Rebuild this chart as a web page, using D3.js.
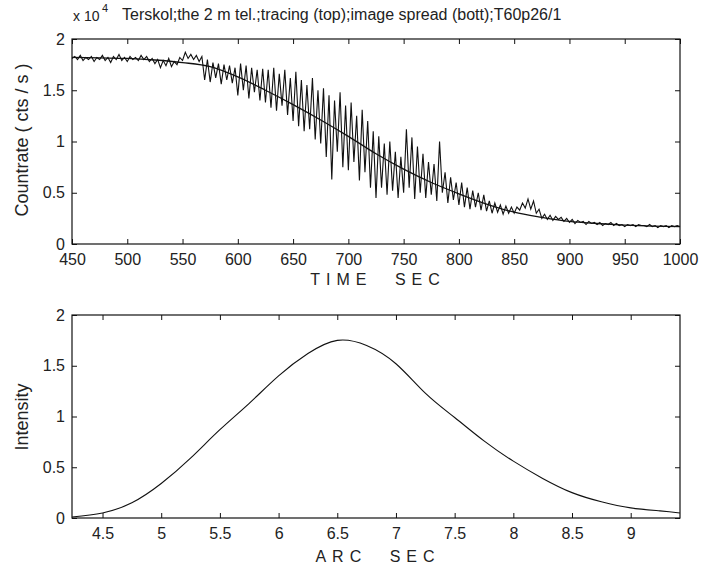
<!DOCTYPE html>
<html>
<head>
<meta charset="utf-8">
<script src="https://cdn.jsdelivr.net/npm/d3@7"></script>
<style>
  body { margin: 0; background: #fff; }
  svg { display: block; }
  text { font-family: "Liberation Sans", Arial, sans-serif; fill: #222; }
</style>
</head>
<body>
<svg id="chart"></svg>
<script>
// tracing: countrate in units of 1e4 cts/s, sampled every 2.5 s from 450 to 1000 s
const traceCounts = [
  1.81, 1.83, 1.80, 1.84, 1.79, 1.82, 1.80, 1.83, 1.78, 1.82,
  1.80, 1.84, 1.79, 1.82, 1.77, 1.83, 1.80, 1.85, 1.79, 1.82,
  1.78, 1.83, 1.80, 1.82, 1.79, 1.84, 1.80, 1.83, 1.78, 1.81,
  1.76, 1.80, 1.72, 1.79, 1.74, 1.81, 1.73, 1.78, 1.75, 1.82,
  1.79, 1.87, 1.81, 1.85, 1.80, 1.84, 1.78, 1.83, 1.60, 1.80,
  1.58, 1.77, 1.62, 1.76, 1.56, 1.75, 1.60, 1.74, 1.57, 1.72,
  1.45, 1.76, 1.50, 1.74, 1.42, 1.72, 1.48, 1.70, 1.40, 1.71,
  1.38, 1.70, 1.33, 1.72, 1.30, 1.66, 1.35, 1.70, 1.26, 1.62,
  1.20, 1.68, 1.15, 1.60, 1.10, 1.55, 1.12, 1.62, 1.02, 1.50,
  0.98, 1.52, 0.85, 1.45, 0.63, 1.40, 0.90, 1.48, 0.75, 1.35,
  0.72, 1.38, 0.80, 1.25, 0.62, 1.31, 0.70, 1.20, 0.55, 1.10,
  0.45, 1.05, 0.55, 0.98, 0.48, 1.00, 0.52, 0.90, 0.45, 0.85,
  0.50, 1.12, 0.55, 1.04, 0.44, 0.95, 0.50, 0.88, 0.45, 0.80,
  0.48, 0.78, 0.42, 1.00, 0.50, 0.70, 0.40, 0.65, 0.43, 0.60,
  0.38, 0.60, 0.36, 0.55, 0.34, 0.52, 0.36, 0.50, 0.33, 0.48,
  0.32, 0.42, 0.30, 0.40, 0.31, 0.38, 0.29, 0.37, 0.30, 0.36,
  0.30, 0.36, 0.33, 0.40, 0.35, 0.44, 0.34, 0.42, 0.30, 0.34,
  0.25, 0.29, 0.24, 0.28, 0.23, 0.27, 0.24, 0.26, 0.22, 0.25,
  0.21, 0.24, 0.20, 0.23, 0.21, 0.22, 0.19, 0.22, 0.20, 0.21,
  0.19, 0.21, 0.18, 0.20, 0.19, 0.21, 0.18, 0.20, 0.18, 0.19,
  0.17, 0.19, 0.18, 0.19, 0.17, 0.19, 0.18, 0.18, 0.17, 0.19,
  0.17, 0.18, 0.16, 0.18, 0.17, 0.18, 0.16, 0.18, 0.17, 0.18,
  0.17
]
const traceTimes = d3.range(traceCounts.length).map(i => 450 + i * 2.5)

// fitted smooth curve over the tracing
const fitTimes = [450, 475, 500, 525, 550, 575, 600, 625, 650, 675, 700, 725, 750, 775, 800, 825, 850, 875, 900, 925, 950, 975, 1000]
const fitCounts = [1.82, 1.815, 1.81, 1.795, 1.77, 1.73, 1.63, 1.50, 1.36, 1.21, 1.05, 0.88, 0.73, 0.60, 0.49, 0.39, 0.31, 0.26, 0.22, 0.20, 0.185, 0.175, 0.17]

// image spread profile
const arcSec = [4.24, 4.5, 4.75, 5.0, 5.25, 5.5, 5.75, 6.0, 6.25, 6.5, 6.75, 7.0, 7.25, 7.5, 7.75, 8.0, 8.25, 8.5, 8.75, 9.0, 9.25, 9.42]
const intensity = [0.01, 0.05, 0.15, 0.34, 0.59, 0.87, 1.13, 1.40, 1.62, 1.75, 1.70, 1.52, 1.23, 0.99, 0.76, 0.56, 0.39, 0.25, 0.16, 0.10, 0.07, 0.05]

const timeTicks = [450, 500, 550, 600, 650, 700, 750, 800, 850, 900, 950, 1000]
const countTicks = [0, 0.5, 1, 1.5, 2]
const arcTicks = [4.5, 5, 5.5, 6, 6.5, 7, 7.5, 8, 8.5, 9]
const intensityTicks = [0, 0.5, 1, 1.5, 2]

const width = 704
const height = 572
const svg = d3.select('#chart')
    .attr('width', width)
    .attr('height', height)

const left = 72
const right = 680
const plain = d => String(d)

// ---------- top panel ----------
const xTop = d3.scaleLinear().domain([450, 1000]).range([left, right])
const yTop = d3.scaleLinear().domain([0, 2]).range([244, 39])

drawFrame(xTop, yTop, timeTicks, countTicks)

svg.append('path')
    .datum(d3.zip(traceTimes, traceCounts))
    .attr('fill', 'none')
    .attr('stroke', '#111')
    .attr('stroke-width', 1.1)
    .attr('d', d3.line().x(d => xTop(d[0])).y(d => yTop(d[1])))

svg.append('path')
    .datum(d3.zip(fitTimes, fitCounts))
    .attr('fill', 'none')
    .attr('stroke', '#111')
    .attr('stroke-width', 1.3)
    .attr('d', d3.line().curve(d3.curveMonotoneX).x(d => xTop(d[0])).y(d => yTop(d[1])))

svg.append('text')
    .attr('x', 73).attr('y', 21)
    .attr('font-size', 14)
    .text('x 10')
svg.append('text')
    .attr('x', 102).attr('y', 12)
    .attr('font-size', 11)
    .text('4')
svg.append('text')
    .attr('x', 122).attr('y', 20)
    .attr('font-size', 16)
    .text('Terskol;the 2 m tel.;tracing (top);image spread (bott);T60p26/1')

svg.append('text')
    .attr('x', 378).attr('y', 285)
    .attr('text-anchor', 'middle')
    .attr('font-size', 16)
    .attr('letter-spacing', 6)
    .attr('word-spacing', 12)
    .text('TIME SEC')

svg.append('text')
    .attr('transform', 'translate(28,140) rotate(-90)')
    .attr('text-anchor', 'middle')
    .attr('font-size', 18)
    .text('Countrate ( cts / s )')

// ---------- bottom panel ----------
const xBot = d3.scaleLinear().domain([4.24, 9.42]).range([left, right])
const yBot = d3.scaleLinear().domain([0, 2]).range([518, 315])

drawFrame(xBot, yBot, arcTicks, intensityTicks)

svg.append('path')
    .datum(d3.zip(arcSec, intensity))
    .attr('fill', 'none')
    .attr('stroke', '#111')
    .attr('stroke-width', 1.1)
    .attr('d', d3.line().curve(d3.curveNatural).x(d => xBot(d[0])).y(d => yBot(d[1])))

svg.append('text')
    .attr('x', 378).attr('y', 562)
    .attr('text-anchor', 'middle')
    .attr('font-size', 16)
    .attr('letter-spacing', 6)
    .attr('word-spacing', 12)
    .text('ARC SEC')

svg.append('text')
    .attr('transform', 'translate(28,417) rotate(-90)')
    .attr('text-anchor', 'middle')
    .attr('font-size', 18)
    .text('Intensity')

// box with inward ticks on all four sides
function drawFrame(x, y, xTicks, yTicks) {
    const [x0, x1] = x.range()
    const [y0, y1] = y.range()

    svg.append('g')
        .attr('transform', `translate(0,${y0})`)
        .call(d3.axisBottom(x).tickValues(xTicks).tickFormat(plain).tickSize(-5).tickSizeOuter(0).tickPadding(10))
        .call(styleAxis)
    svg.append('g')
        .attr('transform', `translate(0,${y1})`)
        .call(d3.axisTop(x).tickValues(xTicks).tickFormat('').tickSize(-5).tickSizeOuter(0))
        .call(styleAxis)
    svg.append('g')
        .attr('transform', `translate(${x0},0)`)
        .call(d3.axisLeft(y).tickValues(yTicks).tickFormat(plain).tickSize(-5).tickSizeOuter(0).tickPadding(7))
        .call(styleAxis)
    svg.append('g')
        .attr('transform', `translate(${x1},0)`)
        .call(d3.axisRight(y).tickValues(yTicks).tickFormat('').tickSize(-5).tickSizeOuter(0))
        .call(styleAxis)

    svg.append('rect')
        .attr('x', x0).attr('y', y1)
        .attr('width', x1 - x0).attr('height', y0 - y1)
        .attr('fill', 'none')
        .attr('stroke', '#111')
        .attr('stroke-width', 1.2)
}

function styleAxis(g) {
    g.select('.domain').remove()
    g.selectAll('line').attr('stroke', '#111')
    g.selectAll('text')
        .attr('font-family', '"Liberation Sans", Arial, sans-serif')
        .attr('font-size', 16)
        .attr('fill', '#222')
}
</script>
</body>
</html>
